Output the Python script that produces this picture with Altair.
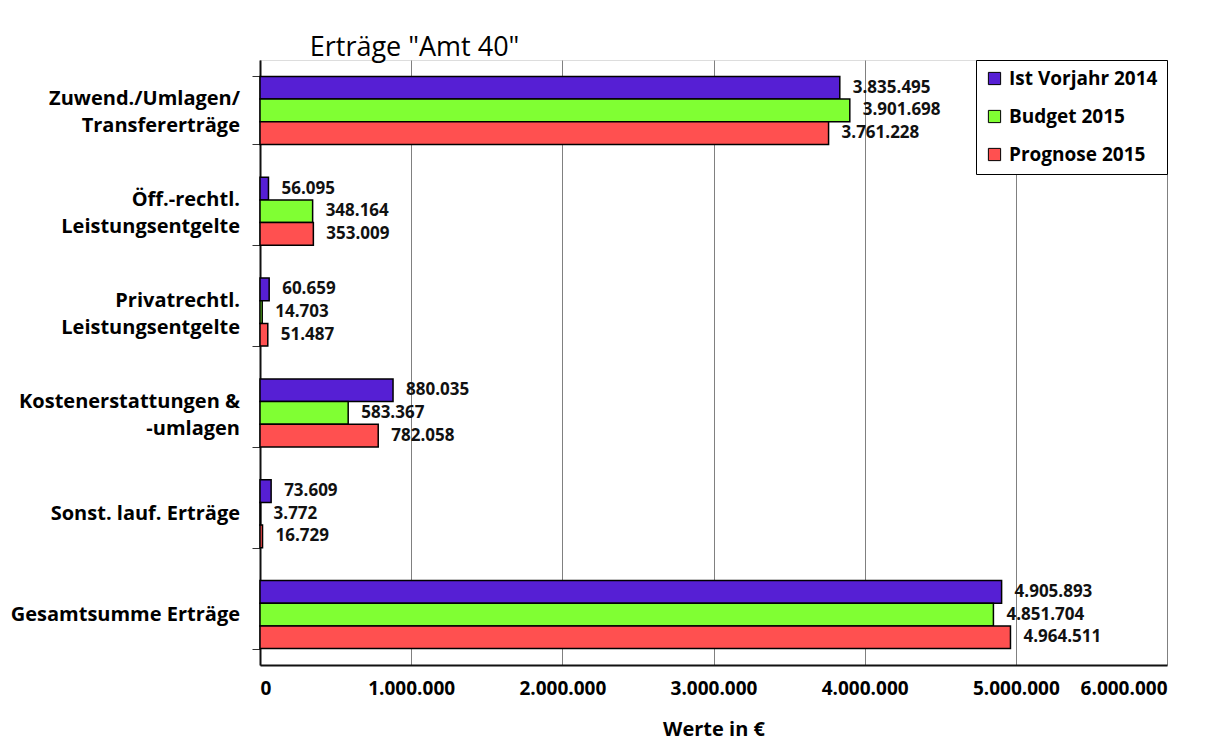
import altair as alt
import pandas as pd

categories = ["Zuwend./Umlagen/|Transfererträge", "Öff.-rechtl.|Leistungsentgelte",
              "Privatrechtl.|Leistungsentgelte", "Kostenerstattungen &|-umlagen",
              "Sonst. lauf. Erträge", "Gesamtsumme Erträge"]
series = ["Ist Vorjahr 2014", "Budget 2015", "Prognose 2015"]
ist_2014 = [3835495, 56095, 60659, 880035, 73609, 4905893]
budget_2015 = [3901698, 348164, 14703, 583367, 3772, 4851704]
prognose_2015 = [3761228, 353009, 51487, 782058, 16729, 4964511]
colors = ["#561fd4", "#80ff33", "#ff5050"]
x_ticks = [0, 1000000, 2000000, 3000000, 4000000, 5000000, 6000000]

rows = []
for s, vals in zip(series, [ist_2014, budget_2015, prognose_2015]):
    for c, v in zip(categories, vals):
        rows.append({"cat": c, "series": s, "value": v})
df = pd.DataFrame(rows)
cat_df = pd.DataFrame({"cat": categories})

FONT = "Open Sans"
fmt = "replace(format(%s, ','), regexp(',', 'g'), '.')"

y = alt.Y("cat:N", sort=categories, title=None,
          scale=alt.Scale(paddingInner=0.325, paddingOuter=0.1625),
          axis=alt.Axis(labels=False, tickSize=8, tickBand="extent",
                        tickColor="#333", domainColor="#111", domainWidth=2))
yo = alt.YOffset("series:N", sort=series, scale=alt.Scale(paddingInner=0, paddingOuter=0))

base = alt.Chart(df)
bars = base.mark_bar(stroke="black", strokeWidth=1.5).encode(
    x=alt.X("value:Q", title="Werte in €",
            scale=alt.Scale(domain=[0, 6000000], nice=False),
            axis=alt.Axis(values=x_ticks, labelExpr=fmt % "datum.value",
                          labelFont=FONT, labelFontSize=19, labelFontWeight="bold",
                          labelColor="#000", labelPadding=14, ticks=False,
                          grid=True, gridColor="#808080", gridWidth=1,
                          domainColor="#111", domainWidth=2,
                          titleFont=FONT, titleFontSize=20, titleFontWeight="bold",
                          titleColor="#000", titlePadding=21)),
    y=y, yOffset=yo,
    color=alt.Color("series:N", sort=series,
                    scale=alt.Scale(domain=series, range=colors),
                    legend=alt.Legend(title=None, orient="top-right", offset=0,
                                      fillColor="white", strokeColor="black",
                                      padding=9, labelFont=FONT, labelFontSize=19,
                                      labelFontWeight="bold", labelColor="#000",
                                      symbolType="square", symbolSize=150,
                                      symbolStrokeColor="black", symbolStrokeWidth=1,
                                      symbolOpacity=1, rowPadding=18, labelOffset=5,
                                      labelLimit=300)),
)
labels = base.mark_text(align="left", baseline="middle", dx=13, font=FONT,
                        fontSize=17, fontWeight="bold", color="#111").encode(
    x="value:Q", y=alt.Y("cat:N", sort=categories), yOffset=yo,
    text=alt.Text("lbl:N"),
).transform_calculate(lbl=fmt % "datum.value")

cat_base = alt.Chart(cat_df)
cat_multi = cat_base.mark_text(align="right", baseline="middle", dy=-11, lineBreak="|",
                               lineHeight=27, font=FONT, fontSize=20, fontWeight="bold",
                               color="#000").encode(
    x=alt.value(-20), y=alt.Y("cat:N", sort=categories), text="cat:N",
).transform_filter("indexof(datum.cat, '|') >= 0")
cat_single = cat_base.mark_text(align="right", baseline="middle", font=FONT,
                                fontSize=20, fontWeight="bold", color="#000").encode(
    x=alt.value(-20), y=alt.Y("cat:N", sort=categories), text="cat:N",
).transform_filter("indexof(datum.cat, '|') < 0")

chart = (bars + labels + cat_multi + cat_single).properties(
    width=907, height=605,
    title=alt.TitleParams('Erträge "Amt 40"', anchor="start", dx=299,
                          offset=0, dy=2, font=FONT, fontSize=27, fontWeight=500,
                          color="#000"),
    autosize=alt.AutoSizeParams(type="none"),
    padding={"left": 252, "top": 52, "right": 40, "bottom": 78},
).configure_view(fill="#f0f0f0", stroke="#999999", strokeWidth=2).configure(background="white")

chart.save("out.html", embed_options={"renderer": "svg", "actions": False})
